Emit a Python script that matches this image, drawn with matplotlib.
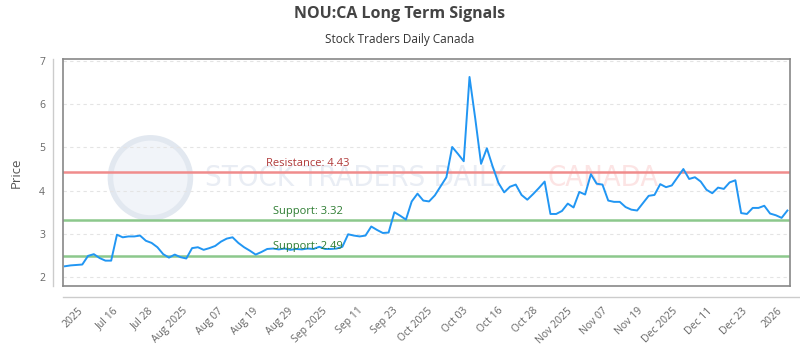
import numpy as np
import matplotlib
matplotlib.use('Agg')
import matplotlib.pyplot as plt
from matplotlib.lines import Line2D
from matplotlib.patches import Ellipse

# daily closing prices
prices = [
    2.25, 2.27, 2.28, 2.29, 2.49, 2.53, 2.44, 2.38, 2.38, 2.98,
    2.92, 2.94, 2.94, 2.96, 2.84, 2.79, 2.69, 2.53, 2.45, 2.52,
    2.46, 2.43, 2.67, 2.69, 2.63, 2.67, 2.72, 2.82, 2.89, 2.92,
    2.79, 2.69, 2.61, 2.52, 2.58, 2.65, 2.66, 2.64, 2.66, 2.63,
    2.65, 2.64, 2.66, 2.65, 2.70, 2.65, 2.65, 2.66, 2.70, 2.99,
    2.96, 2.94, 2.96, 3.17, 3.09, 3.02, 3.03, 3.50, 3.42, 3.33,
    3.75, 3.93, 3.77, 3.75, 3.89, 4.10, 4.31, 5.01, 4.85, 4.68,
    6.63, 5.66, 4.62, 4.98, 4.56, 4.18, 3.96, 4.09, 4.14, 3.90,
    3.79, 3.92, 4.06, 4.21, 3.46, 3.46, 3.53, 3.70, 3.61, 3.97,
    3.91, 4.38, 4.16, 4.14, 3.77, 3.74, 3.74, 3.62, 3.56, 3.54,
    3.71, 3.88, 3.90, 4.15, 4.08, 4.12, 4.31, 4.50, 4.27, 4.31,
    4.21, 4.02, 3.94, 4.07, 4.04, 4.19, 4.24, 3.48, 3.46, 3.60,
    3.60, 3.65, 3.47, 3.43, 3.37, 3.54,
]

tick_labels = ['2025', 'Jul 16', 'Jul 28', 'Aug 2025', 'Aug 07', 'Aug 19', 'Aug 29',
               'Sep 2025', 'Sep 11', 'Sep 23', 'Oct 2025', 'Oct 03', 'Oct 16', 'Oct 28',
               'Nov 2025', 'Nov 07', 'Nov 19', 'Dec 2025', 'Dec 11', 'Dec 23', '2026']

resistance = 4.43
supports = [3.32, 2.49]

plt.rcParams['font.family'] = ['Open Sans', 'DejaVu Sans']

fig = plt.figure(figsize=(8, 3.5), dpi=100)
ax = fig.add_axes([0.079, 0.1837, 0.9085, 0.647])

x = np.arange(len(prices))

# faint watermark (logo ring + wordmark)
ring = Ellipse((0.12, 0.476), 0.11, 0.354, transform=ax.transAxes, facecolor='#f1f4f9',
               edgecolor='#e2e8f0', lw=4, zorder=0)
ax.add_patch(ring)
ax.text(0.195, 0.476, 'STOCK TRADERS DAILY', transform=ax.transAxes, fontsize=21,
        fontstretch='condensed', family=['DejaVu Sans', 'Roboto'], color='#e9edf4',
        ha='left', va='center', zorder=0)
ax.text(0.666, 0.476, 'CANADA', transform=ax.transAxes, fontsize=21,
        fontstretch='condensed', family=['DejaVu Sans', 'Roboto'], color='#fce4e4',
        ha='left', va='center', zorder=0)

ax.axhline(resistance, color='#f08c8c', lw=1.8, zorder=2)
for s in supports:
    ax.axhline(s, color='#8cc88c', lw=1.8, zorder=2)

ax.plot(x, prices, color='#2196f3', lw=1.4, zorder=3)

lx = 42
ax.text(lx, resistance + 0.08, f'Resistance: {resistance:.2f}', color='#b03a3a',
        fontsize=8, ha='center', va='bottom', zorder=4)
for s in supports:
    ax.text(lx, s + 0.08, f'Support: {s:.2f}', color='#2e7d32',
            fontsize=8, ha='center', va='bottom', zorder=4)

ax.set_xlim(-0.3, len(prices) - 1 + 0.45)
ax.set_ylim(1.8, 7.04)
ax.set_yticks([2, 3, 4, 5, 6, 7])
ax.set_xticks(np.linspace(2.8, len(prices) - 1 - 1.1, len(tick_labels)))
ax.set_xticklabels(tick_labels)
plt.setp(ax.get_xticklabels(), rotation=45, ha='right', va='center',
         rotation_mode='anchor')
ax.tick_params(axis='x', length=0, pad=17, labelsize=7.5, labelcolor='#666666')
ax.tick_params(axis='y', length=0, pad=13, labelsize=7.5, labelcolor='#666666')
ax.grid(axis='y', color='#e4e4e4', ls=(0, (3, 3)), lw=0.8)
ax.set_axisbelow(True)
for sp in ax.spines.values():
    sp.set_color('#888888')
    sp.set_linewidth(1.2)

ax.set_ylabel('Price', fontsize=9.5, color='#555555', labelpad=12)

# light offset axis lines
fig.add_artist(Line2D([53.3 / 800, 53.3 / 800], [1 - 286 / 350, 1 - 59 / 350],
                      transform=fig.transFigure, color='#cccccc', lw=1))
fig.add_artist(Line2D([63 / 800, 1.0], [1 - 296.5 / 350, 1 - 296.5 / 350],
                      transform=fig.transFigure, color='#cccccc', lw=1))

fig.text(0.5, 1 - 14 / 350, 'NOU:CA Long Term Signals', ha='center', va='center',
         fontsize=11.5, fontweight='bold', color='#444444')
fig.text(0.5, 1 - 39 / 350, 'Stock Traders Daily Canada', ha='center', va='center',
         fontsize=8.5, color='#333333')

fig.savefig('out.png', dpi=100)
